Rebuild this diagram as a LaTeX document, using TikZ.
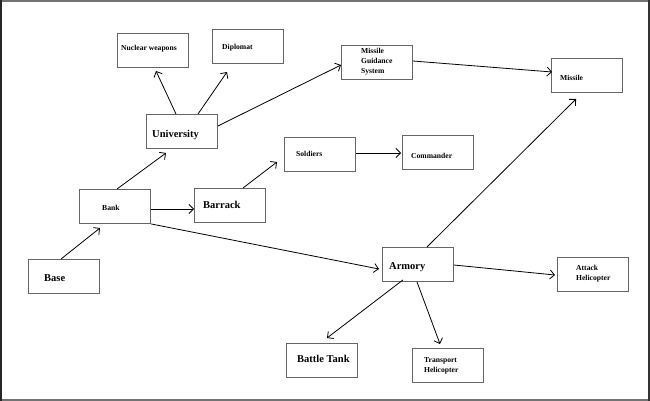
\documentclass[tikz,border=0pt]{standalone}
\usepackage{fontspec}
\setmainfont{Liberation Serif}
\usetikzlibrary{arrows.meta,calc}
\begin{document}
\begin{tikzpicture}[x=1pt,y=-1pt,
  box/.style={draw=black!60,line width=0.9pt,minimum width=71pt,minimum height=34pt,inner sep=0pt,anchor=north west},
  big/.style={font=\bfseries\fontsize{10.5}{12}\selectfont,anchor=west,inner sep=0pt},
  small/.style={font=\bfseries\fontsize{7.6}{10}\selectfont,anchor=west,inner sep=0pt,align=left},
  arr/.style={draw=black,line width=0.8pt,-{Straight Barb[length=4.5pt,width=9pt,line width=0.8pt]}}]
\useasboundingbox (0,0) rectangle (650,401);
\draw[black!55,line width=1.5pt] (1,0.8) rectangle (648.5,400);
\draw[black!85,line width=2pt] (1,0) -- (1,401);
\draw[black!80,line width=2pt] (649,0) -- (649,401);
% boxes
\node[box] (nw) at (117,33) {};
\node[box] (dip) at (212,29) {};
\node[box] (uni) at (146,114) {};
\node[box] (sol) at (284,137) {};
\node[box] (com) at (402,135) {};
\node[box] (mgs) at (341,45) {};
\node[box] (mis) at (551,58) {};
\node[box] (bank) at (79,189) {};
\node[box] (bar) at (194,188) {};
\node[box] (base) at (28,259) {};
\node[box] (tank) at (286,343) {};
\node[box] (arm) at (382,247) {};
\node[box] (ah) at (557,257) {};
\node[box] (th) at (412,348) {};
% labels
\node[small] (t-nw) at (121,49) {Nuclear weapons};
\node[small] (t-dip) at (222,48) {Diplomat};
\node[big] (t-uni) at (152,135) {University};
\node[small] (t-sol) at (296,154) {Soldiers};
\node[small] (t-com) at (411,156) {Commander};
\node[small] (t-mgs) at (361,62) {Missile\\Guidance\\System};
\node[small] (t-mis) at (560,78) {Missile};
\node[small] (t-bank) at (102,208) {Bank};
\node[big] (t-bar) at (203,205) {Barrack};
\node[big] (t-base) at (44,278) {Base};
\node[big] (t-tank) at (297,359) {Battle Tank};
\node[big] (t-arm) at (389,267) {Armory};
\node[small] (t-ah) at (576,274) {Attack\\Helicopter};
\node[small] (t-th) at (424,366) {Transport\\Helicopter};
% connector anchors
\coordinate (p1) at (100,228);
\coordinate (p2) at (166,153);
\coordinate (p3) at (156,71);
\coordinate (p4) at (227,72);
\coordinate (p5) at (341,65);
\coordinate (p6) at (552,72);
\coordinate (p7) at (277,162);
\coordinate (p8) at (401,153);
\coordinate (p9) at (194,209);
\coordinate (p10) at (379,269);
\coordinate (p11) at (576,99);
\coordinate (p12) at (555,275);
\coordinate (p13) at (327,338);
\coordinate (p14) at (440,344);
% connectors
\draw[arr] ($(base.north west)+(33,0)$) -- (p1);
\draw[arr] ($(bank.north west)+(38,0)$) -- (p2);
\draw[arr] ($(uni.north west)+(30,0)$) -- (p3);
\draw[arr] ($(uni.north west)+(52,0)$) -- (p4);
\draw[arr] ($(uni.north east)+(0,12)$) -- (p5);
\draw[arr] ($(mgs.north east)+(0,16)$) -- (p6);
\draw[arr] ($(bar.north west)+(49,0)$) -- (p7);
\draw[arr] ($(sol.north east)+(0,16)$) -- (p8);
\draw[arr] ($(bank.north east)+(0,20)$) -- (p9);
\draw[arr] (bank.south east) -- (p10);
\draw[arr] ($(arm.north west)+(45,0)$) -- (p11);
\draw[arr] ($(arm.north east)+(0,18)$) -- (p12);
\draw[arr] ($(arm.south west)+(21,-2)$) -- (p13);
\draw[arr] ($(arm.south west)+(35,0)$) -- (p14);
\end{tikzpicture}
\end{document}
